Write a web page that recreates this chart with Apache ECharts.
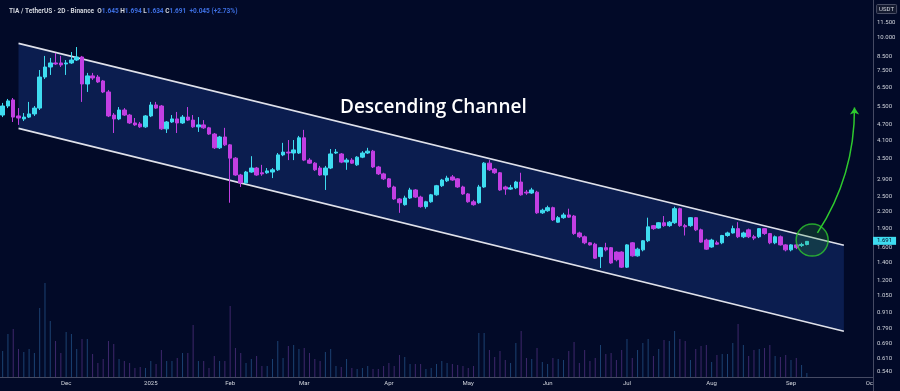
<!DOCTYPE html>
<html>
<head>
<meta charset="utf-8">
<script src="https://cdn.jsdelivr.net/npm/echarts@6/dist/echarts.min.js"></script>
<style>
html,body{margin:0;padding:0;background:#020a28;}
#chart{width:900px;height:391px;}
</style>
</head>
<body>
<div id="chart"></div>
<script>
// ---- categories: 2-day candles (TIA/USDT, Binance) ----
const firstCandle = '2024-11-07';
const categoryCount = 165;           // candles + empty space up to 1 Oct 2025
const monthLabels = ['2025','Feb','Mar','Apr','May','Jun','Jul','Aug','Sep','Oct','Nov','Dec'];

// ---- price values (USDT) ----
const opens = [
 5.10,5.52,5.82,5.06,4.93,5.01,5.15,5.42,7.11,7.76,
 8.04,8.04,7.97,8.04,8.25,8.47,6.69,7.18,7.11,6.87,
 6.24,5.10,4.93,5.33,5.10,4.76,4.72,4.60,5.06,5.57,
 5.52,4.52,4.80,4.93,4.76,5.01,4.88,4.60,4.68,4.56,
 4.32,3.83,4.21,3.93,3.50,3.02,2.82,3.10,3.21,3.08,
 3.08,3.10,3.16,3.60,3.69,3.66,3.66,4.18,3.44,3.35,
 3.21,3.02,3.21,3.66,3.63,3.38,3.44,3.30,3.53,3.66,
 3.72,3.24,3.05,2.92,2.72,2.45,2.33,2.47,2.65,2.49,
 2.29,2.39,2.54,2.75,2.87,2.97,2.92,2.72,2.56,2.39,
 2.37,2.72,3.35,3.18,3.08,2.72,2.67,2.70,2.84,2.60,
 2.58,2.60,2.17,2.21,2.27,2.00,2.08,2.13,2.11,1.82,
 1.76,1.67,1.65,1.48,1.60,1.60,1.54,1.54,1.35,1.67,
 1.49,1.57,1.70,1.94,1.90,1.99,1.94,1.99,2.25,1.94,
 1.94,2.08,1.87,1.71,1.61,1.67,1.67,1.78,1.82,1.89,
 1.76,1.87,1.76,1.76,1.89,1.81,1.67,1.76,1.64,1.57,
 1.64,1.63,1.645
];
const closes = [
 5.52,5.77,5.01,4.97,5.01,5.15,5.42,7.11,7.76,8.04,
 7.97,7.90,8.04,8.25,8.47,6.69,7.18,7.05,6.81,6.24,
 5.06,4.93,5.33,5.10,4.76,4.68,4.60,5.06,5.57,5.42,
 4.52,4.80,4.93,4.76,5.01,4.88,4.60,4.68,4.56,4.32,
 3.83,4.21,3.93,3.50,3.02,2.82,3.10,3.21,3.02,3.05,
 3.13,3.16,3.60,3.69,3.66,3.76,4.18,3.44,3.35,3.16,
 3.02,3.21,3.63,3.69,3.38,3.44,3.35,3.53,3.66,3.72,
 3.24,3.05,2.92,2.72,2.45,2.37,2.47,2.65,2.49,2.29,
 2.39,2.54,2.75,2.89,2.94,2.89,2.72,2.56,2.39,2.33,
 2.72,3.35,3.16,3.08,2.65,2.67,2.70,2.84,2.54,2.58,
 2.65,2.17,2.22,2.27,2.04,2.08,2.13,2.09,1.81,1.76,
 1.67,1.64,1.46,1.60,1.57,1.40,1.44,1.35,1.64,1.49,
 1.58,1.70,1.92,1.89,1.99,1.94,2.00,2.25,1.94,1.92,
 2.08,1.87,1.68,1.58,1.71,1.65,1.78,1.82,1.89,1.76,
 1.82,1.76,1.74,1.89,1.81,1.67,1.76,1.64,1.57,1.64,
 1.60,1.646,1.691
];
const lows = [
 5.01,5.42,4.80,4.68,4.84,4.97,5.06,5.33,6.99,7.24,
 7.90,7.76,7.24,7.97,8.18,5.72,6.24,6.93,6.75,6.18,
 5.01,4.36,4.88,5.06,4.72,4.64,4.56,4.56,5.01,5.38,
 4.48,4.36,4.76,4.36,4.72,4.84,4.56,4.40,4.52,4.29,
 3.79,3.79,3.89,2.37,3.00,2.72,2.79,3.08,3.00,3.00,
 3.05,2.94,3.13,3.56,3.44,3.44,3.63,3.41,3.33,3.13,
 3.00,2.65,3.18,3.63,3.35,3.16,3.33,3.27,3.50,3.63,
 3.21,3.02,2.89,2.70,2.43,2.17,2.31,2.45,2.47,2.27,
 2.25,2.37,2.52,2.72,2.84,2.87,2.70,2.54,2.37,2.31,
 2.35,2.70,3.13,3.05,2.63,2.54,2.65,2.67,2.52,2.54,
 2.56,2.15,2.15,2.19,2.02,1.99,2.06,2.08,1.79,1.74,
 1.65,1.63,1.45,1.34,1.55,1.39,1.42,1.34,1.34,1.48,
 1.48,1.55,1.68,1.87,1.89,1.92,1.92,1.97,1.92,1.78,
 1.92,1.85,1.67,1.57,1.60,1.64,1.65,1.76,1.81,1.74,
 1.74,1.74,1.71,1.74,1.79,1.65,1.65,1.63,1.55,1.55,
 1.58,1.61,1.634
];
const highs = [
 5.67,5.87,5.92,5.42,5.19,5.72,5.52,7.56,8.55,8.40,
 8.77,8.55,8.25,8.85,9.24,8.55,7.37,7.37,7.24,6.93,
 6.35,5.19,5.47,5.42,5.15,4.97,4.80,5.10,5.72,5.72,
 5.57,4.84,5.10,5.24,5.10,5.47,5.10,5.01,4.88,4.60,
 4.36,4.25,4.56,3.96,3.53,3.05,3.13,3.56,3.24,3.30,
 3.21,3.21,3.66,4.00,4.10,4.10,4.25,4.48,3.50,3.38,
 3.27,3.27,3.79,3.79,3.66,3.50,3.50,3.56,3.72,3.83,
 3.76,3.27,3.08,2.94,2.75,2.47,2.52,2.70,2.67,2.52,
 2.41,2.56,2.77,2.92,3.00,3.02,2.94,2.75,2.58,2.43,
 2.77,3.38,3.44,3.21,3.10,2.75,2.77,2.87,3.08,2.65,
 2.70,2.63,2.25,2.31,2.29,2.11,2.17,2.25,2.13,1.84,
 1.78,1.68,1.67,1.61,1.67,1.61,1.55,1.55,1.65,1.68,
 1.60,1.71,2.08,1.95,2.00,2.11,2.02,2.29,2.27,1.97,
 2.09,2.09,1.89,1.73,1.73,1.70,1.79,1.84,1.94,2.00,
 1.84,1.89,1.79,1.90,1.90,1.82,1.78,1.78,1.65,1.65,
 1.65,1.67,1.694
];
// volume (relative units)
const volumes = [
 26,43,48,28,25,28,24,69,94,56,
 36,24,45,43,28,38,38,23,14,18,
 36,33,18,16,14,9,10,9,16,13,
 27,16,16,19,24,24,52,16,16,9,
 21,16,16,71,29,24,14,18,21,11,
 11,18,36,19,31,32,28,29,24,18,
 16,25,28,11,10,18,9,8,9,11,
 8,8,11,14,11,22,20,13,13,13,
 8,9,13,16,14,
 13,12,11,9,11,44,44,27,20,26,
 17,14,34,46,19,18,29,15,13,19,
 18,17,26,35,14,27,16,19,32,23,
 24,17,27,38,19,27,34,38,21,28,
 37,36,46,38,36,17,28,31,32,15,
 22,23,23,34,53,32,21,27,28,29,
 32,21,20,22,17,19,12,4
];
// price-axis tick labels
const priceTicks = [11.5,10,8.5,7.5,6.5,5.5,4.7,4.1,3.5,2.9,2.5,2.2,1.9,1.6,1.4,1.2,1.05,0.91,0.79,0.69,0.61,0.54];
// descending channel (start / end candle dates and prices)
const channelDates = ['2024-11-13','2025-09-21'];
const channelUpper = [9.54, 1.635];
const channelLower = [4.54, 0.771];
// breakout highlight and projected move
const breakoutDate = '2025-09-09';
const breakoutPrice = 1.71;
const arrowDates = ['2025-09-11','2025-09-25'];
const arrowPrices = [1.82, 5.45];
const lastPrice = 1.691;

// ---- build ----
const dates = [];
(function(){
  const t0 = Date.parse(firstCandle + 'T00:00:00Z');
  for (let i = 0; i < categoryCount; i++) {
    dates.push(new Date(t0 + i * 2 * 86400000).toISOString().slice(0, 10));
  }
})();
const L = Math.log;
const idx = d => dates.indexOf(d);

const BG = '#020a28';
const UP = '#3fdcf0';
const DOWN = '#c23fe2';
const GREEN = '#2ec92e';
const AXISC = '#454a63';
const TXT = '#d1d4dc';
const FONT = 'Roboto, "Liberation Sans", sans-serif';

const candleData = opens.map((o, i) => [L(o), L(closes[i]), L(lows[i]), L(highs[i])]);
const volData = volumes.map((v, i) => ({
  value: v,
  itemStyle: { color: closes[i] >= opens[i] ? 'rgba(44,100,160,0.62)' : 'rgba(100,58,150,0.62)' }
}));

const chart = echarts.init(document.getElementById('chart'), null, { renderer: 'canvas' });

chart.setOption({
  backgroundColor: BG,
  animation: false,
  textStyle: { fontFamily: FONT },
  title: [
    {
      left: 4, top: 3,
      text: '{w|TIA / TetherUS · 2D · Binance  O}{b|1.645}{w| H}{b|1.694}{w| L}{b|1.634}{w| C}{b|1.691}{b|  +0.045 (+2.73%)}',
      textStyle: {
        fontSize: 6.5,
        rich: {
          w: { color: TXT, fontSize: 6.5, fontFamily: FONT },
          b: { color: '#3d6ee0', fontSize: 6.5, fontFamily: FONT }
        }
      }
    },
    {
      text: 'Descending Channel', left: 335, top: 93,
      textStyle: { color: '#ffffff', fontSize: 19, fontWeight: 600, fontFamily: '"Open Sans", sans-serif' }
    },
    {
      text: 'USDT', right: 3, top: 4,
      backgroundColor: '#141a30', borderColor: '#4a4f66', borderWidth: 1, borderRadius: 1,
      padding: [2, 3],
      textStyle: { color: TXT, fontSize: 6, fontWeight: 'normal', fontFamily: FONT }
    }
  ],
  grid: [
    { left: 0, right: 27, top: 0, bottom: 14 },
    { left: 0, right: 27, top: 283, bottom: 14 }
  ],
  xAxis: [
    {
      type: 'category', gridIndex: 0, data: dates, boundaryGap: true,
      axisLine: { show: true, onZero: false, lineStyle: { color: AXISC } },
      axisTick: { show: false },
      splitLine: { show: false },
      axisLabel: {
        color: TXT, fontSize: 6, margin: 3, fontFamily: FONT,
        interval: (i, v) => i > 0 && v.slice(5, 7) !== dates[i - 1].slice(5, 7),
        formatter: v => monthLabels[+v.slice(5, 7) - 1]
      }
    },
    {
      type: 'category', gridIndex: 1, data: dates, boundaryGap: true,
      axisLine: { show: false, onZero: false }, axisTick: { show: false }, axisLabel: { show: false }, splitLine: { show: false }
    }
  ],
  yAxis: [
    {
      type: 'value', gridIndex: 0, position: 'right',
      min: -0.6599, max: 2.6346,
      splitLine: { show: false },
      axisTick: { show: false },
      axisLine: { show: true, lineStyle: { color: AXISC } },
      axisLabel: {
        customValues: priceTicks.map(L),
        formatter: v => Math.exp(v).toFixed(3),
        color: TXT, fontSize: 6, margin: 4, fontFamily: FONT
      }
    },
    {
      type: 'value', gridIndex: 1, min: 0, max: 94,
      show: false, splitLine: { show: false }
    }
  ],
  series: [
    {
      type: 'custom', name: 'channel', xAxisIndex: 0, yAxisIndex: 0, z: 1, silent: true,
      data: [[idx(channelDates[0]), L(channelUpper[0])]],
      renderItem: (params, api) => {
        const i0 = idx(channelDates[0]), i1 = idx(channelDates[1]);
        const u0 = api.coord([i0, L(channelUpper[0])]);
        const u1 = api.coord([i1, L(channelUpper[1])]);
        const l0 = api.coord([i0, L(channelLower[0])]);
        const l1 = api.coord([i1, L(channelLower[1])]);
        return {
          type: 'group',
          children: [
            { type: 'polygon', shape: { points: [u0, u1, l1, l0] }, style: { fill: '#0b1d4f' } },
            { type: 'line', shape: { x1: u0[0], y1: u0[1], x2: u1[0], y2: u1[1] }, style: { stroke: '#dfe1ea', lineWidth: 1.6 } },
            { type: 'line', shape: { x1: l0[0], y1: l0[1], x2: l1[0], y2: l1[1] }, style: { stroke: '#dfe1ea', lineWidth: 1.6 } }
          ]
        };
      }
    },
    {
      type: 'bar', name: 'volume', xAxisIndex: 1, yAxisIndex: 1, z: 2,
      data: volData, barWidth: 1, silent: true
    },
    {
      type: 'candlestick', name: 'TIA', xAxisIndex: 0, yAxisIndex: 0, z: 3, clip: false,
      data: candleData, barWidth: 4,
      itemStyle: { color: UP, color0: DOWN, borderColor: UP, borderColor0: DOWN, borderWidth: 1 },
      markLine: {
        silent: true, symbol: 'none', animation: false,
        lineStyle: { color: UP, width: 0.01, type: 'solid' },
        data: [{ yAxis: L(lastPrice) }],
        label: {
          show: true,
          position: 'end', distance: 0,
          formatter: () => lastPrice.toFixed(3),
          backgroundColor: UP, color: '#06102a', fontSize: 6, padding: [1, 4], fontFamily: FONT
        }
      }
    },
    {
      type: 'scatter', name: 'breakout', xAxisIndex: 0, yAxisIndex: 0, z: 5, silent: true,
      data: [[idx(breakoutDate), L(breakoutPrice)]],
      symbolSize: 32,
      itemStyle: { color: 'rgba(40,150,60,0.30)', borderColor: GREEN, borderWidth: 1.5 }
    },
    {
      type: 'lines', name: 'projection', coordinateSystem: 'cartesian2d', xAxisIndex: 0, yAxisIndex: 0, z: 6, silent: true,
      symbol: ['none', 'arrow'], symbolSize: 7,
      lineStyle: { color: GREEN, width: 1.5, curveness: -0.15, opacity: 1 },
      data: [{ coords: [[idx(arrowDates[0]), L(arrowPrices[0])], [idx(arrowDates[1]), L(arrowPrices[1])]] }]
    }
  ],
  graphic: [
    { type: 'rect', z: 100, shape: { x: 873.5, y: 378, width: 27, height: 13 }, style: { fill: BG } },
    { type: 'line', z: 100, shape: { x1: 873.5, y1: 377, x2: 873.5, y2: 391 }, style: { stroke: AXISC, lineWidth: 1 } }
  ]
});
</script>
</body>
</html>
